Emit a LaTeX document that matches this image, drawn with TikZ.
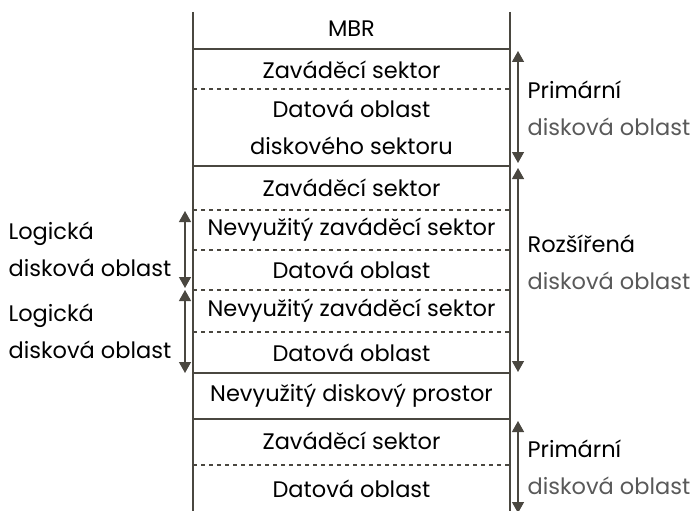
\documentclass[tikz,border=0pt]{standalone}
\usepackage{fontspec}
\setmainfont{Poppins}
\usetikzlibrary{arrows.meta,positioning}
\definecolor{edge}{rgb}{0.29,0.28,0.25}
\definecolor{soft}{rgb}{0.35,0.35,0.35}

\begin{document}
\begin{tikzpicture}[x=1pt,y=-1pt,line width=1.2pt,
    every node/.style={font=\fontsize{22.5}{37}\selectfont,inner sep=0pt}]
	  \tikzstyle{cell}=[text=black,anchor=center]
	  \tikzstyle{side}=[align=left,anchor=west]
	  \tikzstyle{span}=[edge,line width=1.3pt,{Triangle[length=11pt,width=12pt]}-{Triangle[length=11pt,width=12pt]}]
	  \tikzstyle{sep}=[edge,dash pattern=on 4pt off 4pt,line width=1.3pt]
	  \useasboundingbox (0,0) rectangle (694,511);

	  % column outline
	  \draw[edge] (193,12) -- (193,511);
	  \draw[edge] (510,12) -- (510,511);
	  \foreach \y in {49,166,373,419}
	    \draw[edge] (193,\y) -- (510,\y);
	  \foreach \y in {89,210,250,290,332,465}
	    \draw[sep] (193,\y) -- (510,\y);

	  % cells
	  \node[cell] (mbr) at (351.5,29) {MBR};
	  \node[cell] (zs1) at (351.5,70) {Zaváděcí sektor};
	  \node[cell,align=center] (dos) at (351.5,127) {Datová oblast\\diskového sektoru};
	  \node[cell] (zs2) at (351.5,188) {Zaváděcí sektor};
	  \node[cell] (nz1) at (351.5,230) {Nevyužitý zaváděcí sektor};
	  \node[cell] (do1) at (351.5,270) {Datová oblast};
	  \node[cell] (nz2) at (351.5,311) {Nevyužitý zaváděcí sektor};
	  \node[cell] (do2) at (351.5,353) {Datová oblast};
	  \node[cell] (ndp) at (351.5,396) {Nevyužitý diskový prostor};
	  \node[cell] (zs3) at (351.5,441) {Zaváděcí sektor};
	  \node[cell] (do3) at (351.5,489) {Datová oblast};

	  % span ends
	  \coordinate (p1a) at (518,51);
	  \coordinate (p1b) at (518,163);
	  \coordinate (r1a) at (518,168);
	  \coordinate (r1b) at (518,372);
	  \coordinate (p2a) at (518,421);
	  \coordinate (p2b) at (518,513);
	  \coordinate (l1a) at (185,211);
	  \coordinate (l1b) at (185,288);
	  \coordinate (l2a) at (185,290);
	  \coordinate (l2b) at (185,373);

	  \draw[span] (p1a) -- (p1b);
	  \draw[span] (r1a) -- (r1b);
	  \draw[span] (p2a) -- (p2b);
	  \draw[span] (l1a) -- (l1b);
	  \draw[span] (l2a) -- (l2b);

	  % labels
	  \node[side] (prim1) at (527,108) {Primární\\\textcolor{soft}{disková oblast}};
	  \node[side] (rozs) at (527,262) {Rozšířená\\\textcolor{soft}{disková oblast}};
	  \node[side] (prim2) at (527,467) {Primární\\\textcolor{soft}{disková oblast}};
	  \node[side] (log1) at (8,249) {Logická\\disková oblast};
	  \node[side] (log2) at (8,331) {Logická\\disková oblast};
	\end{tikzpicture}
\end{document}
